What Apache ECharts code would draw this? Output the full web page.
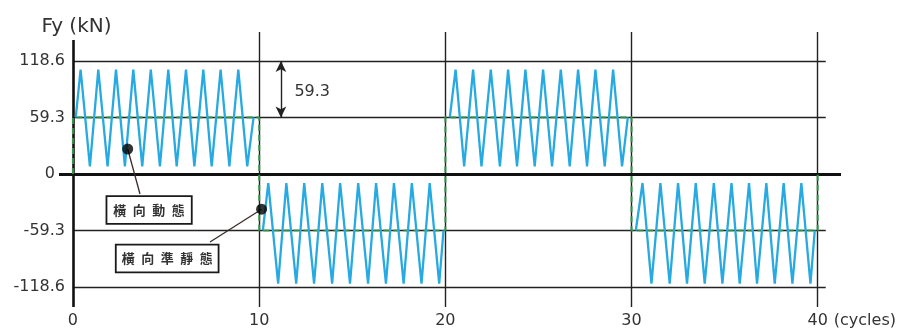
<!DOCTYPE html>
<html><head><meta charset="utf-8">
<script src="https://cdn.jsdelivr.net/npm/echarts@6/dist/echarts.min.js"></script>
<style>html,body{margin:0;padding:0;background:#fff}#c{width:907px;height:329px}</style>
</head><body><div id="c"></div>
<script>
// ---- data ----
const xTicks = [0, 10, 20, 30, 40];
const yTicks = [-118.6, -59.3, 0, 59.3, 118.6];
const hLevels = [118.6, 59.3, -59.3, -118.6];
const vLines = [10, 20, 30, 40];

// quasi-static (green dashed) load history
const qsX = [0, 0, 10, 10, 20, 20, 30, 30, 40, 40];
const qsY = [0, 59.3, 59.3, -59.3, -59.3, 59.3, 59.3, -59.3, -59.3, 0];

// dynamic (blue) load history, four blocks of 10 cycles
const seg1X = [0.15, 0.41, 0.91, 1.36, 1.86, 2.31, 2.79, 3.24, 3.72, 4.18, 4.67, 5.12, 5.57, 6.07, 6.52, 7.00, 7.45, 7.93, 8.40, 8.88, 9.36, 9.70];
const seg1Y = [59.3, 109.5, 8, 109.5, 8, 109.5, 8, 109.5, 8, 109.5, 8, 109.5, 8, 109.5, 8, 109.5, 8, 109.5, 8, 109.5, 8, 59.3];
const seg2X = [10.20, 10.49, 11.02, 11.46, 11.99, 12.42, 12.95, 13.39, 13.92, 14.35, 14.88, 15.32, 15.85, 16.28, 16.81, 17.24, 17.76, 18.20, 18.72, 19.16, 19.67, 19.90];
const seg2Y = [-59.3, -9.5, -115, -9.5, -115, -9.5, -115, -9.5, -115, -9.5, -115, -9.5, -115, -9.5, -115, -9.5, -115, -9.5, -115, -9.5, -115, -59.3];
const seg3X = [20.24, 20.55, 21.01, 21.49, 21.94, 22.44, 22.93, 23.37, 23.85, 24.30, 24.80, 25.25, 25.73, 26.20, 26.68, 27.13, 27.61, 28.06, 28.56, 29.01, 29.49, 29.80];
const seg3Y = [59.3, 109.5, 8, 109.5, 8, 109.5, 8, 109.5, 8, 109.5, 8, 109.5, 8, 109.5, 8, 109.5, 8, 109.5, 8, 109.5, 8, 59.3];
const seg4X = [30.23, 30.59, 31.07, 31.55, 32.05, 32.50, 32.98, 33.45, 33.93, 34.42, 34.88, 35.37, 35.81, 36.31, 36.74, 37.24, 37.69, 38.17, 38.64, 39.12, 39.61, 39.84];
const seg4Y = [-59.3, -9.5, -115, -9.5, -115, -9.5, -115, -9.5, -115, -9.5, -115, -9.5, -115, -9.5, -115, -9.5, -115, -9.5, -115, -9.5, -115, -59.3];

// annotations
const labelDynamic = '橫向動態';
const dotDynamic = [2.94, 26.2];
const leaderDynamicEnd = [3.6, -21];
const boxDynamic = [4.09, -37.8];
const labelQuasi = '橫向準靜態';
const dotQuasi = [10.13, -37];
const leaderQuasiEnd = [7.36, -71.4];
const boxQuasi = [5.06, -88.7];
const arrowX = 11.17;
const arrowFrom = 118.6;
const arrowTo = 59.3;
const arrowText = '59.3';
const arrowTextPos = [12.85, 86.4];

const xName = '(cycles)';
const yName = 'Fy (kN)';
const xMin = -0.75, xMax = 41.25, yMin = -139.6, yMax = 149, yAxisTop = 140.6;

// ---- build ----
const zip = (xs, ys) => xs.map((x, i) => [x, ys[i]]);
const FONT = 'DejaVu Sans';
const blue = '#27a9e1';
const green = '#37a04e';

const gridLines = [];
hLevels.forEach(v => gridLines.push([{coord: [0, v]}, {coord: [40.43, v]}]));
vLines.forEach(v => gridLines.push({xAxis: v}));
gridLines.push([{coord: [0, yMin], lineStyle: {width: 2.6, color: '#111'}}, {coord: [0, yAxisTop]}]);
gridLines.push([{coord: [xMin, 0], lineStyle: {width: 3.2, color: '#111'}}, {coord: [xMax, 0]}]);

const spaced = s => s.split('').join('\u2002');

const dynSeries = [[seg1X, seg1Y], [seg2X, seg2Y], [seg3X, seg3Y], [seg4X, seg4Y]].map(([xs, ys]) => ({
  name: 'dynamic', type: 'line', z: 3, data: zip(xs, ys), showSymbol: false, silent: true,
  lineStyle: {color: blue, width: 2.3}, animation: false
}));

const chart = echarts.init(document.getElementById('c'), null, {renderer: 'canvas'});
chart.setOption({
  backgroundColor: '#fff',
  animation: false,
  grid: {left: 59, right: 66, top: 32, bottom: 22},
  xAxis: {
    type: 'value', min: xMin, max: xMax,
    axisLine: {show: false, onZero: false}, axisTick: {show: false}, splitLine: {show: false},
    axisLabel: {customValues: xTicks, color: '#333', fontSize: 16, fontFamily: FONT, margin: 6},
    name: xName, nameLocation: 'end', nameGap: -8,
    nameTextStyle: {color: '#333', fontSize: 16, fontFamily: FONT, verticalAlign: 'top', padding: [6, 0, 0, 0]}
  },
  yAxis: {
    type: 'value', min: yMin, max: yMax, offset: -14,
    axisLine: {show: false, onZero: false}, axisTick: {show: false}, splitLine: {show: false},
    axisLabel: {
      customValues: yTicks, color: '#333', fontSize: 16, fontFamily: FONT, margin: 8,
      formatter: v => v === 0 ? '{z|0}' : String(v),
      rich: {z: {color: '#333', fontSize: 16, fontFamily: FONT, padding: [0, 10, 0, 0]}}
    },
    name: yName, nameLocation: 'end', nameGap: -5,
    nameTextStyle: {color: '#333', fontSize: 20, fontFamily: FONT, padding: [0, 0, 0, 7]}
  },
  series: [
    {
      name: 'grid', type: 'line', data: [], silent: true, z: 1,
      markLine: {
        z: 1, silent: true, symbol: ['none', 'none'], animation: false,
        label: {show: false},
        lineStyle: {color: '#222', width: 1.4, type: 'solid'},
        data: gridLines
      }
    },
    {
      name: 'quasi', type: 'line', z: 2, data: zip(qsX, qsY), showSymbol: false, silent: true,
      lineStyle: {color: green, width: 2.2, type: [6, 4], opacity: 0.85}
    },
    ...dynSeries,
    {
      name: 'notes', type: 'scatter', z: 6, silent: true,
      data: [dotDynamic, dotQuasi], symbolSize: 11, itemStyle: {color: '#000'},
      markLine: {
        z: 5, silent: true, symbol: ['none', 'none'], animation: false,
        label: {show: false},
        lineStyle: {color: '#3a2a2a', width: 1.3, type: 'solid'},
        data: [
          [{coord: dotDynamic}, {coord: leaderDynamicEnd}],
          [{coord: dotQuasi}, {coord: leaderQuasiEnd}],
          [{coord: [arrowX, arrowFrom], symbol: 'arrow', symbolSize: [8, 11], lineStyle: {color: '#222', width: 1.4}},
           {coord: [arrowX, arrowTo], symbol: 'arrow', symbolSize: [8, 11]}]
        ]
      },
      markPoint: {
        z: 7, silent: true, symbol: 'rect', symbolSize: 0, animation: false,
        data: [
          {coord: boxDynamic, value: 0, label: {formatter: spaced(labelDynamic), backgroundColor: '#fff', borderColor: '#1a1a1a', borderWidth: 1.8, padding: [7, 6, 6, 6], fontFamily: 'Noto Sans CJK TC', fontWeight: 'bold', fontSize: 13, color: '#333'}},
          {coord: boxQuasi, value: 0, label: {formatter: spaced(labelQuasi), backgroundColor: '#fff', borderColor: '#1a1a1a', borderWidth: 1.8, padding: [7, 5, 6, 5], fontFamily: 'Noto Sans CJK TC', fontWeight: 'bold', fontSize: 13, color: '#333'}},
          {coord: arrowTextPos, value: 0, label: {formatter: arrowText, fontFamily: FONT, fontSize: 16, color: '#333'}}
        ],
        label: {show: true, position: 'inside'}
      }
    }
  ]
});
</script>
</body></html>
